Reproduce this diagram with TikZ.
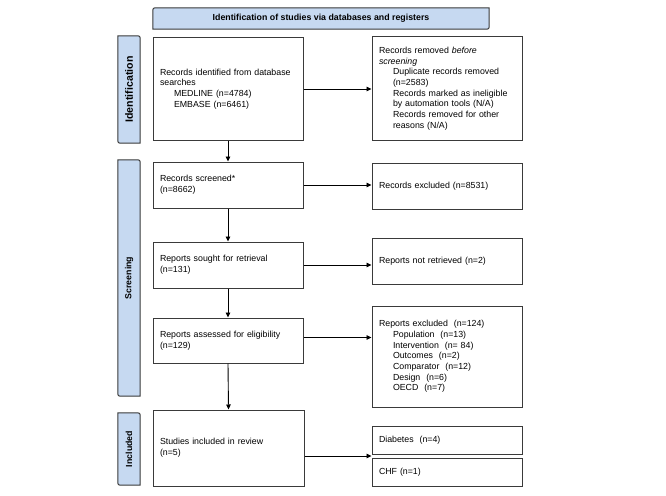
\documentclass[tikz,border=0pt]{standalone}
\usepackage{fontspec}
\setmainfont{Liberation Sans}
\usetikzlibrary{arrows.meta,calc}
\definecolor{sidefill}{HTML}{C6D9F1}
\definecolor{edgecol}{HTML}{3A3A3A}
\tikzset{
 box/.style={draw=edgecol, line width=1pt, rectangle, inner xsep=7pt, inner ysep=2pt, align=left, font=\fontsize{8.8}{10.7}\selectfont},
 arr/.style={-{Triangle[length=5pt,width=4.5pt]}, line width=0.9pt, black},
 lab/.style={inner sep=0pt, font=\bfseries\fontsize{8.8}{10.7}\selectfont},
 panel/.style={fill=sidefill, draw=edgecol, line width=1pt},
 slot/.style={inner sep=0pt, draw=none},
}
\newcommand{\ind}{\hspace*{14pt}}
\newcommand{\sidepanel}[1]{%
 \draw[panel] (#1.north west) -- ($(#1.north east)+(-5,0)$) .. controls (#1.north east) .. ($(#1.north east)+(0,5)$) -- (#1.south east) -- ($(#1.south west)+(5,0)$) .. controls (#1.south west) .. ($(#1.south west)+(0,-5)$) -- cycle;}
\begin{document}
\begin{tikzpicture}[x=1pt,y=-1pt]
\useasboundingbox[fill=white] (0,0) rectangle (666,495);

% title
\node[slot, minimum width=336pt, minimum height=21pt] (tit) at (321,18.5) {};
\draw[panel] ($(tit.north west)+(5,0)$) -- (tit.north east) -- ($(tit.south east)+(0,-5)$) .. controls (tit.south east) .. ($(tit.south east)+(-5,0)$) -- (tit.south west) -- ($(tit.north west)+(0,5)$) .. controls (tit.north west) .. ($(tit.north west)+(5,0)$) -- cycle;
\node[lab] (titt) at (tit) {Identification of studies via databases and registers};

% side panels
\node[slot, minimum width=22pt, minimum height=107pt] (sI) at (129,89.5) {};
\sidepanel{sI}
\node[lab, rotate=90, font=\bfseries\fontsize{10.6}{12}\selectfont] (sIt) at (sI) {Identification};
\node[slot, minimum width=22pt, minimum height=236pt] (sS) at (129,278) {};
\sidepanel{sS}
\node[lab, rotate=90] (sSt) at (sS) {Screening};
\node[slot, minimum width=22pt, minimum height=72pt] (sN) at (129,449) {};
\sidepanel{sN}
\node[lab, rotate=90] (sNt) at (sN) {Included};

% boxes
\node[box, text width=136pt, minimum height=102pt] (b1) at (228,89) {Records identified from database\\searches\\\ind MEDLINE (n=4784)\\\ind EMBASE (n=6461)};
\node[box, text width=136pt, minimum height=103pt] (b2) at (447,88.5) {Records removed \textit{before}\\\textit{screening}\\\ind Duplicate records removed\\\ind (n=2583)\\\ind Records marked as ineligible\\\ind by automation tools (N/A)\\\ind Records removed for other\\\ind reasons (N/A)};
\node[box, text width=136pt, minimum height=46pt] (scr) at (228,185) {Records screened*\\(n=8662)};
\node[box, text width=136pt, minimum height=46pt] (exc) at (447,186) {Records excluded (n=8531)};
\node[box, text width=136pt, minimum height=46pt] (sou) at (228,265) {Reports sought for retrieval\\(n=131)};
\node[box, text width=136pt, minimum height=46pt] (nre) at (447,261) {Reports not retrieved (n=2)};
\node[box, text width=136pt, minimum height=45pt] (ass) at (228,340.5) {Reports assessed for eligibility\\(n=129)};
\node[box, text width=136pt, minimum height=101pt] (rex) at (447,356.5) {Reports excluded~ (n=124)\\\ind Population~ (n=13)\\\ind Intervention~ (n= 84)\\\ind Outcomes~ (n=2)\\\ind Comparator~ (n=12)\\\ind Design~ (n=6)\\\ind OECD~ (n=7)};
\node[box, text width=137pt, minimum height=76pt] (stu) at (228.5,448) {Studies included in review\\(n=5)};
\node[box, text width=136pt, minimum height=28pt] (dia) at (447,440) {Diabetes~ (n=4)};
\node[box, text width=136pt, minimum height=28pt] (chf) at (447,472) {CHF (n=1)};

% arrows
\draw[arr] (b1.east) -- (b1.east -| b2.west);
\draw[arr] (scr.east) -- (scr.east -| exc.west);
\draw[arr] (sou.east) -- (sou.east -| nre.west);
\draw[arr] ([yshift=3pt]ass.east) -- ([yshift=3pt]ass.east -| rex.west);
\coordinate (mid) at ($(dia.south west)!0.5!(chf.north west)$);
\draw[arr] (stu.east |- mid) -- (mid);
\draw[arr] (b1.south) -- (scr.north);
\draw[arr] (scr.south) -- (sou.north);
\draw[arr] (sou.south) -- (ass.north);
\draw[arr] (ass.south) -- (stu.north);
\end{tikzpicture}
\end{document}
